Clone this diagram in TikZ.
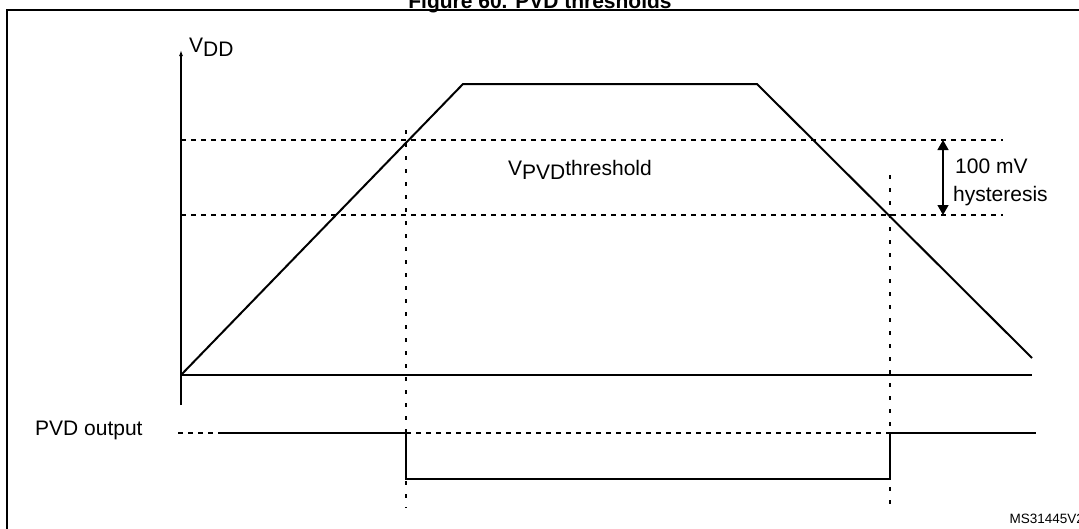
\documentclass[tikz,border=0pt]{standalone}
\usepackage{fontspec}
\setmainfont{Liberation Sans}
\usetikzlibrary{arrows.meta}
\begin{document}
\begin{tikzpicture}[x=1pt,y=-1pt,
  sig/.style={line width=2pt},
  thin/.style={line width=1.3pt},
  dsh/.style={line width=1.2pt,dash pattern=on 5pt off 5pt},
  vdsh/.style={line width=1.2pt,dash pattern=on 4pt off 9pt},
  lbl/.style={font=\fontsize{21}{24}\selectfont,inner sep=0pt}]
\useasboundingbox (0,0) rectangle (1079,528);
\begin{scope}
\clip (0,0) rectangle (1079,528);
\node[font=\bfseries\fontsize{21}{24}\selectfont,inner sep=0pt] (title) at (540,3) {Figure 60. PVD thresholds};
\draw[line width=1.8pt] (7,540) -- (7,10) -- (1090,10);
\node[anchor=east,inner sep=0pt,font=\fontsize{13.5}{16}\selectfont] (ms) at (1084,519) {MS31445V2};
\end{scope}
\coordinate (o) at (181,375);
\coordinate (vb) at (181,405);
\coordinate (vt) at (181,50);
\draw[thin,-{Latex[length=6pt,width=4pt]}] (vb) -- (vt);
\node[lbl,anchor=west] (vdd) at (189,47) {V\raisebox{-0.35ex}{DD}};
\coordinate (xe) at (1032,375);
\draw[thin] (o) -- (xe);
\coordinate (p1) at (463,84);
\coordinate (p2) at (757,84);
\coordinate (p3) at (1032,358);
\draw[sig] (o) -- (p1) -- (p2) -- (p3);
\coordinate (h1a) at (181,140); \coordinate (h1b) at (1003,140);
\coordinate (h2a) at (181,215); \coordinate (h2b) at (1003,215);
\draw[dsh] (h1a) -- (h1b);
\draw[dsh] (h2a) -- (h2b);
\coordinate (v1a) at (406,130); \coordinate (v1b) at (406,508);
\coordinate (v2a) at (890,175); \coordinate (v2b) at (890,508);
\draw[vdsh] (v1a) -- (v1b);
\draw[vdsh] (v2a) -- (v2b);
\coordinate (ha) at (943,140); \coordinate (hb) at (943,215);
\draw[thin,{Triangle[length=10pt,width=11pt]}-{Triangle[length=10pt,width=11pt]}] (ha) -- (hb);
\node[lbl,anchor=west] (mv) at (955,166) {100 mV};
\node[lbl,anchor=west] (hy) at (953,196) {hysteresis};
\node[lbl,anchor=west] (pvd) at (508,170) {V\raisebox{-0.35ex}{PVD}threshold};
\node[lbl,anchor=west] (out) at (35,430) {PVD output};
\coordinate (q0) at (178,433); \coordinate (q1) at (223,433);
\coordinate (q2) at (406,433); \coordinate (q3) at (406,479);
\coordinate (q4) at (890,479); \coordinate (q5) at (890,433);
\coordinate (q6) at (1036,433);
\draw[dsh] (q0) -- (q1);
\draw[dsh] (q2) -- (q5);
\draw[sig] (q1) -- (q2) -- (q3) -- (q4) -- (q5) -- (q6);
\end{tikzpicture}
\end{document}
